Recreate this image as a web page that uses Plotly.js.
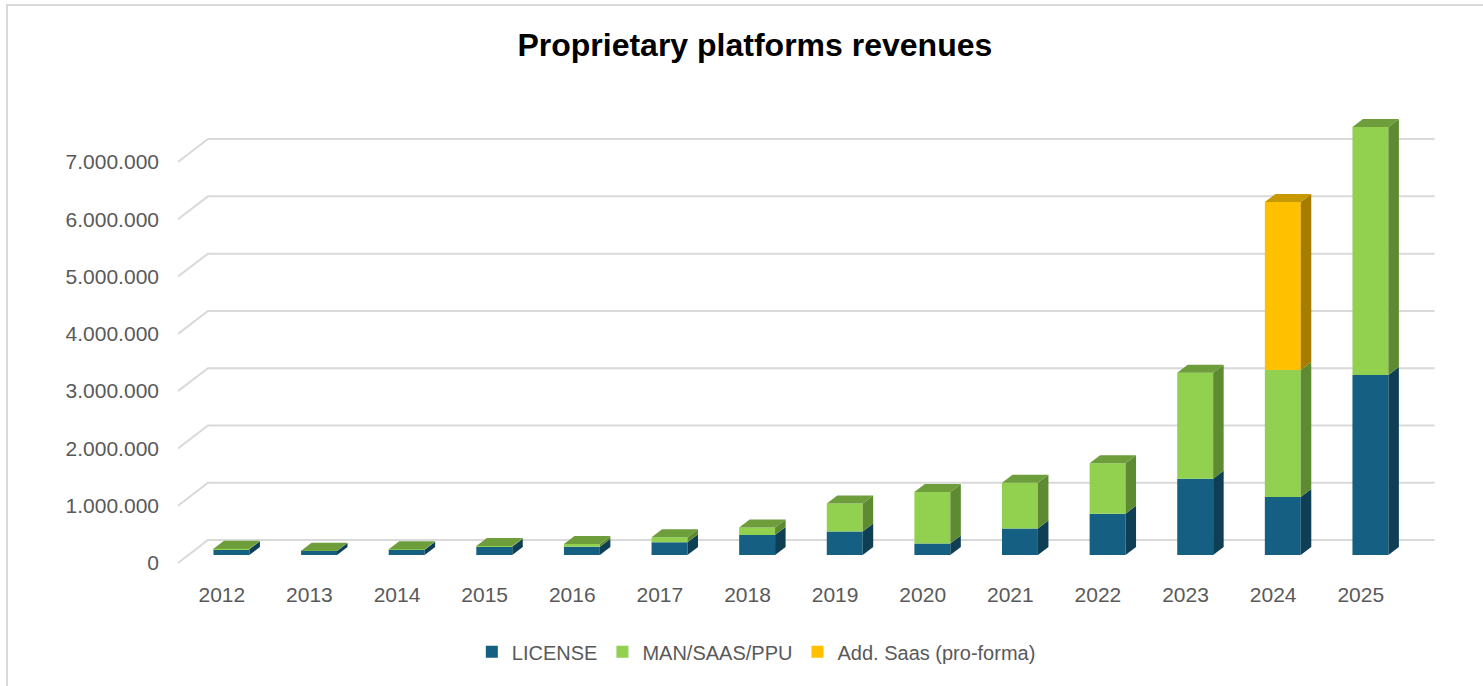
<!DOCTYPE html>
<html>
<head>
<meta charset="utf-8">
<script src="https://cdn.plot.ly/plotly-3.0.1.min.js"></script>
<style>
  html, body { margin: 0; padding: 0; background: #ffffff; overflow: hidden; }
  #wrap { position: relative; width: 1483px; height: 686px; overflow: hidden; }
  #chart { position: absolute; left: 0; top: 0; width: 1483px; height: 686px; }
  #frame { position: absolute; left: 6px; top: 4px; width: 1500px; height: 700px;
           border: 2px solid #d9d9d9; box-sizing: border-box; pointer-events: none; }
</style>
</head>
<body>
<div id="wrap">
  <div id="chart"></div>
  <div id="frame"></div>
</div>
<script>
// ---- data ----
const years = ['2012','2013','2014','2015','2016','2017','2018','2019','2020','2021','2022','2023','2024','2025'];
const license = [100000, 70000, 90000, 145000, 145000, 220000, 350000, 410000, 200000, 460000, 720000, 1330000, 1010000, 3140000];
const manSaas = [10000, 5000, 10000, 10000, 45000, 90000, 130000, 490000, 900000, 800000, 880000, 1850000, 2220000, 4330000];
const addSaas = [0, 0, 0, 0, 0, 0, 0, 0, 0, 0, 0, 0, 2930000, 0];
const seriesNames = ['LICENSE', 'MAN/SAAS/PPU', 'Add. Saas (pro-forma)'];
const yTickVals = [0, 1000000, 2000000, 3000000, 4000000, 5000000, 6000000, 7000000];
const yTickText = ['0', '1.000.000', '2.000.000', '3.000.000', '4.000.000', '5.000.000', '6.000.000', '7.000.000'];

// ---- styling / pseudo-3D geometry (in axis units) ----
const frontColors = ['#156082', '#92D050', '#FFC000'];
const sideColors  = ['#0E3F55', '#5E8A31', '#A67D00'];
const topColors   = ['#11506C', '#6E9D3C', '#C89800'];
const BAR_W = 0.41, BAR_DX = 0.11, BASE = 140000;
const DEPTH_DX = 0.12, DEPTH_DY = 140000;
const WALL_DX = 0.342, WALL_DY = 400000;
const X_MIN = -0.5, X_MAX = years.length - 0.5;

const series = [license, manSaas, addSaas];
const xs = years.map((_, i) => i + BAR_DX);

// cumulative bases
const bases = [];
let running = years.map(() => BASE);
series.forEach((vals, k) => {
  bases.push(running.slice());
  running = running.map((b, i) => b + vals[i]);
});

const traces = series.map((vals, k) => ({
  type: 'bar',
  name: seriesNames[k],
  x: xs,
  y: vals,
  base: bases[k],
  width: BAR_W,
  marker: { color: frontColors[k], line: { width: 0 } },
  hovertemplate: '%{customdata}<br>' + seriesNames[k] + ': %{y:,.0f}<extra></extra>',
  customdata: years
}));

const shapes = [];
// back-wall gridlines
yTickVals.forEach(v => {
  shapes.push({
    type: 'path', xref: 'x', yref: 'y', layer: 'below',
    path: `M ${X_MIN},${v} L ${X_MIN + WALL_DX},${v + WALL_DY} L ${X_MAX + WALL_DX},${v + WALL_DY}`,
    line: { color: '#d9d9d9', width: 2 }
  });
});
// side and top faces
years.forEach((_, i) => {
  const xl = xs[i] - BAR_W / 2, xr = xs[i] + BAR_W / 2;
  let topK = -1;
  series.forEach((vals, k) => {
    if (vals[i] > 0) {
      topK = k;
      const y0 = bases[k][i], y1 = bases[k][i] + vals[i];
      shapes.push({
        type: 'path', xref: 'x', yref: 'y', layer: 'above',
        path: `M ${xr},${y0} L ${xr + DEPTH_DX},${y0 + DEPTH_DY} L ${xr + DEPTH_DX},${y1 + DEPTH_DY} L ${xr},${y1} Z`,
        fillcolor: sideColors[k], line: { width: 0 }
      });
    }
  });
  if (topK >= 0) {
    const yt = bases[topK][i] + series[topK][i];
    shapes.push({
      type: 'path', xref: 'x', yref: 'y', layer: 'above',
      path: `M ${xl},${yt} L ${xl + DEPTH_DX},${yt + DEPTH_DY} L ${xr + DEPTH_DX},${yt + DEPTH_DY} L ${xr},${yt} Z`,
      fillcolor: topColors[topK], line: { width: 0 }
    });
  }
});

const layout = {
  width: 1483, height: 686,
  paper_bgcolor: '#ffffff', plot_bgcolor: 'rgba(0,0,0,0)',
  margin: { l: 178, r: 46, t: 100, b: 111 },
  barmode: 'overlay',
  font: { family: 'Liberation Sans, Arial, sans-serif', color: '#595959', size: 20 },
  title: {
    text: '<b>Proprietary platforms revenues</b>',
    font: { family: 'Liberation Sans, Arial, sans-serif', size: 32, color: '#000000' },
    x: 0.509, xref: 'container', xanchor: 'center',
    y: 0.935, yref: 'container', yanchor: 'middle'
  },
  xaxis: {
    type: 'linear',
    range: [X_MIN, X_MAX + 0.37],
    tickmode: 'array',
    tickvals: years.map((_, i) => i),
    ticktext: years,
    showgrid: false, zeroline: false, showline: false,
    ticks: '', ticklabelstandoff: 5,
    tickfont: { size: 21, color: '#595959' },
    fixedrange: true
  },
  yaxis: {
    range: [-209500, 8081700],
    tickmode: 'array',
    tickvals: yTickVals,
    ticktext: yTickText,
    showgrid: false, zeroline: false, showline: false,
    ticks: '', ticklabelstandoff: 18,
    tickfont: { size: 21, color: '#595959' },
    fixedrange: true
  },
  shapes: shapes,
  showlegend: true,
  legend: {
    orientation: 'h',
    xref: 'container', x: 0.51, xanchor: 'center',
    yref: 'container', y: 0.05, yanchor: 'middle',
    font: { size: 20, color: '#595959' },
    traceorder: 'normal',
    itemclick: false, itemdoubleclick: false
  },
  hovermode: 'closest'
};

Plotly.newPlot('chart', traces, layout, { displayModeBar: false, responsive: false });
</script>
</body>
</html>
